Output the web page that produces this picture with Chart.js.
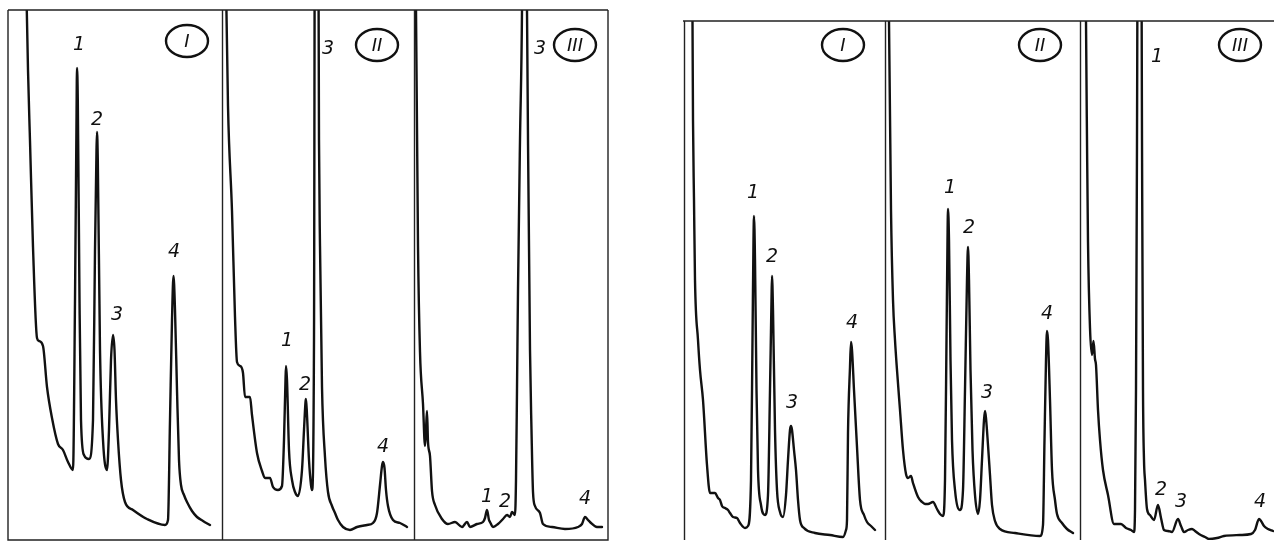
<!DOCTYPE html>
<html>
<head>
<meta charset="utf-8">
<script src="https://cdn.jsdelivr.net/npm/chart.js@4"></script>
<style>
  body { margin: 0; background: #fff; }
  canvas { position: absolute; top: 0; }
  #leftChart { left: 0; }
  #rightChart { left: 660px; }
</style>
</head>
<body>
<canvas id="leftChart" width="620" height="542"></canvas>
<canvas id="rightChart" width="614" height="542"></canvas>
<script>
// Valores > máximo del eje = pico fuera de escala (se recorta)

// --- Panel izquierdo ---
const leftTimeI = [25, 28, 30, 33, 37, 39, 43, 47, 52, 58, 63, 68, 73,
  75, 76.5, 77, 77.8, 79.5, 81, 84, 89,
  93, 95, 96.5, 97, 97.8, 100, 103, 107,
  109, 111, 113, 114.5, 116, 118, 121, 125, 133, 147, 165,
  168, 170, 172, 173.5, 175, 177, 179, 181, 184, 187, 192, 197, 203, 210];
const leftRespI = [620, 470, 399, 293, 202, 199, 194, 153, 122, 96, 90, 78, 70,
  240, 420, 472, 440, 240, 120, 85, 81,
  120, 290, 390, 408, 380, 190, 100, 70,
  110, 180, 205, 190, 140, 100, 60, 38, 30, 21, 15,
  20, 120, 220, 264, 230, 150, 80, 55, 45, 38, 29, 23, 19, 15];

const leftTimeII = [224, 226, 228, 232, 235, 237, 240, 243, 245, 250, 252, 257, 262, 265, 270, 273, 278, 282,
  284, 285.5, 286, 287, 289, 292, 295, 298,
  302, 304, 305.5, 306, 307, 309, 311, 312,
  314, 315, 318, 319, 320, 322, 325, 328, 332, 335, 338, 343, 350, 357, 367, 373,
  377, 380, 382, 383, 384.5, 386, 388, 393, 400, 407];
const leftRespII = [700, 560, 434, 329, 223, 178, 174, 167, 143, 143, 125, 87, 69, 62, 62, 53, 50, 54,
  100, 160, 174, 160, 90, 60, 48, 44,
  70, 110, 138, 141, 125, 80, 55, 50,
  200, 700, 700, 400, 294, 153, 83, 48, 34, 27, 20, 13, 10, 13, 15, 17,
  27, 55, 74, 78, 72, 50, 34, 20, 17, 13];

const leftTimeIII = [415, 416, 418, 420, 423, 425, 426, 427, 428, 430, 432, 435, 442, 448, 455, 462, 467, 470, 477, 483,
  485, 487, 489, 490, 493, 498, 503, 507, 510, 512,
  515, 516, 517, 518, 520, 522, 523, 526, 527, 528, 530, 531.5, 533, 535, 540, 543, 552, 565, 578,
  582, 585, 588, 590, 597, 602];
const leftRespIII = [700, 530, 294, 188, 136, 94, 110, 129, 98, 84, 49, 35, 21, 16, 18, 13, 18, 13, 16, 18,
  22, 30, 20, 18, 13, 16, 21, 25, 23, 28,
  25, 60, 150, 250, 400, 530, 700, 700, 530, 400, 190, 110, 48, 34, 27, 16, 13, 11, 13,
  16, 23, 20, 18, 13, 13];

// --- Panel derecho ---
const rightTimeI = [692, 692.5, 693, 694, 695, 698, 700, 703, 707, 710, 713, 715, 718, 720, 722, 725, 728, 730, 733, 737, 740, 745,
  748, 751, 752.5, 753.5, 754, 755, 756.5, 758, 761, 765,
  768, 770, 771.5, 772, 773, 775, 777, 780, 783,
  786, 788, 790, 791, 792, 794, 796, 798, 800, 804, 815, 830, 843,
  846, 847, 848, 850, 851, 852, 854, 857, 860, 864, 867, 871, 875];
const rightRespI = [700, 519, 420, 340, 260, 200, 170, 140, 75, 47, 47, 47, 42, 40, 34, 32, 30, 27, 23, 22, 17, 12,
  14, 60, 200, 300, 324, 280, 150, 70, 35, 25,
  45, 150, 240, 264, 230, 110, 50, 28, 23,
  45, 80, 110, 114, 110, 90, 70, 40, 20, 12, 7, 5, 3,
  10, 20, 107, 173, 198, 190, 150, 93, 40, 25, 18, 14, 10];

const rightTimeII = [888, 889, 891, 893, 895, 897, 900, 903, 906, 908, 911, 913, 918, 922, 925, 928, 933, 937, 940, 943,
  945, 946.5, 947.5, 948, 949, 950.5, 952, 955, 960,
  963, 965, 967, 968, 969, 970.5, 972.5, 975, 978,
  980, 982, 984, 985, 986, 988, 990, 992, 995, 1000, 1015, 1040,
  1043, 1044.5, 1046, 1047, 1048, 1050, 1052, 1055, 1057, 1062, 1067, 1073];
const rightRespII = [700, 519, 330, 240, 200, 170, 130, 90, 66, 62, 64, 57, 43, 38, 36, 36, 38, 31, 26, 24,
  60, 200, 300, 331, 300, 180, 100, 50, 30,
  50, 150, 260, 293, 260, 170, 90, 45, 26,
  40, 80, 120, 129, 122, 95, 65, 35, 19, 11, 7, 4,
  15, 100, 180, 209, 200, 140, 70, 40, 26, 17, 11, 7];

const rightTimeIII = [1085, 1086, 1087, 1088, 1090, 1092, 1093.5, 1095, 1096, 1098, 1100, 1103, 1108, 1114, 1121, 1126, 1131, 1134,
  1135, 1136, 1137, 1138, 1141, 1142, 1143, 1144, 1145, 1147, 1150, 1154,
  1158, 1161, 1164, 1168, 1172, 1178, 1181, 1184, 1188, 1192, 1195, 1199, 1205, 1209, 1217, 1224, 1240, 1251,
  1255, 1259, 1261, 1264, 1268, 1273];
const rightRespIII = [700, 519, 400, 298, 212, 185, 199, 181, 175, 130, 100, 70, 45, 16, 16, 12, 10, 8,
  30, 150, 400, 700, 700, 400, 150, 80, 60, 31, 25, 20,
  35, 22, 10, 9, 8, 21, 14, 8, 10, 11, 9, 6, 3, 1, 2, 4, 5, 6,
  10, 21, 19, 14, 11, 9];

// Números de pico: [tiempo, respuesta, texto]
const leftPeakLabels = [
  [79, 495, '1'], [97, 420, '2'], [117, 225, '3'], [174, 288, '4'],
  [287, 199, '1'], [305, 155, '2'], [328, 491, '3'], [383, 93, '4'],
  [487, 43, '1'], [505, 38, '2'], [540, 491, '3'], [585, 41, '4']
];
const rightPeakLabels = [
  [753, 347, '1'], [772, 283, '2'], [792, 137, '3'], [852, 217, '4'],
  [950, 352, '1'], [969, 312, '2'], [987, 147, '3'], [1047, 226, '4'],
  [1157, 483, '1'], [1161, 50, '2'], [1181, 38, '3'], [1260, 38, '4']
];
// Marcas de condición (I, II, III)
const leftRoman = [[187, 499, 'I'], [377, 495, 'II'], [575, 495, 'III']];
const rightRoman = [[843, 495, 'I'], [1040, 495, 'II'], [1240, 495, 'III']];

// Separadores de sub-paneles
const leftDividers = [222, 414];
const rightDividers = [684, 885, 1080];

function toPoints(t, r) {
    return t.map((x, i) => ({ x: x, y: r[i] }));
}

// Plugin para marco, etiquetas y círculos
const decorPlugin = {
    id: 'decor',
    afterDatasetsDraw(chart, args, opts) {
        const ctx = chart.ctx;
        const area = chart.chartArea;
        const xs = chart.scales.x;
        const ys = chart.scales.y;
        ctx.save();
        ctx.strokeStyle = '#222';
        ctx.lineWidth = 1.4;
        ctx.beginPath();
        ctx.moveTo(area.left, area.top);
        ctx.lineTo(area.right, area.top);
        if (opts.fullBox) {
            ctx.moveTo(area.left, area.top);
            ctx.lineTo(area.left, area.bottom);
            ctx.lineTo(area.right, area.bottom);
            ctx.lineTo(area.right, area.top);
        }
        opts.dividers.forEach(d => {
            const px = Math.round(xs.getPixelForValue(d)) + 0.5;
            ctx.moveTo(px, area.top);
            ctx.lineTo(px, area.bottom);
        });
        ctx.stroke();

        ctx.fillStyle = '#111';
        ctx.textAlign = 'center';
        ctx.textBaseline = 'middle';
        ctx.font = 'italic 19px "DejaVu Sans"';
        opts.labels.forEach(l => {
            ctx.fillText(l[2], xs.getPixelForValue(l[0]), ys.getPixelForValue(l[1]));
        });

        ctx.lineWidth = 2.4;
        ctx.strokeStyle = '#111';
        ctx.font = 'italic 18px "DejaVu Sans"';
        opts.roman.forEach(r => {
            const cx = xs.getPixelForValue(r[0]);
            const cy = ys.getPixelForValue(r[1]);
            ctx.beginPath();
            ctx.ellipse(cx, cy, 21, 16, 0, 0, Math.PI * 2);
            ctx.stroke();
            ctx.fillText(r[2], cx, cy + 1);
        });
        ctx.restore();
    }
};

function makeChart(id, traces, xMin, xMax, yMax, padding, decor) {
    return new Chart(document.getElementById(id), {
        type: 'line',
        data: {
            datasets: traces.map(t => ({
                data: toPoints(t[0], t[1]),
                borderColor: '#111',
                borderWidth: 2.4,
                pointRadius: 0,
                cubicInterpolationMode: 'monotone',
                borderJoinStyle: 'round',
                borderCapStyle: 'round',
                fill: false,
                clip: 0
            }))
        },
        options: {
            responsive: false,
            animation: false,
            devicePixelRatio: 1,
            layout: { padding: padding },
            plugins: {
                legend: { display: false },
                tooltip: { enabled: false },
                decor: decor
            },
            scales: {
                x: { type: 'linear', min: xMin, max: xMax, display: false },
                y: { type: 'linear', min: 0, max: yMax, display: false }
            }
        },
        plugins: [decorPlugin]
    });
}

makeChart('leftChart',
    [[leftTimeI, leftRespI], [leftTimeII, leftRespII], [leftTimeIII, leftRespIII]],
    8, 608, 530,
    { left: 8, right: 12, top: 10, bottom: 2 },
    { fullBox: true, dividers: leftDividers, labels: leftPeakLabels, roman: leftRoman });

makeChart('rightChart',
    [[rightTimeI, rightRespI], [rightTimeII, rightRespII], [rightTimeIII, rightRespIII]],
    683, 1274, 519,
    { left: 23, right: 0, top: 21, bottom: 2 },
    { fullBox: false, dividers: rightDividers, labels: rightPeakLabels, roman: rightRoman });
</script>
</body>
</html>
